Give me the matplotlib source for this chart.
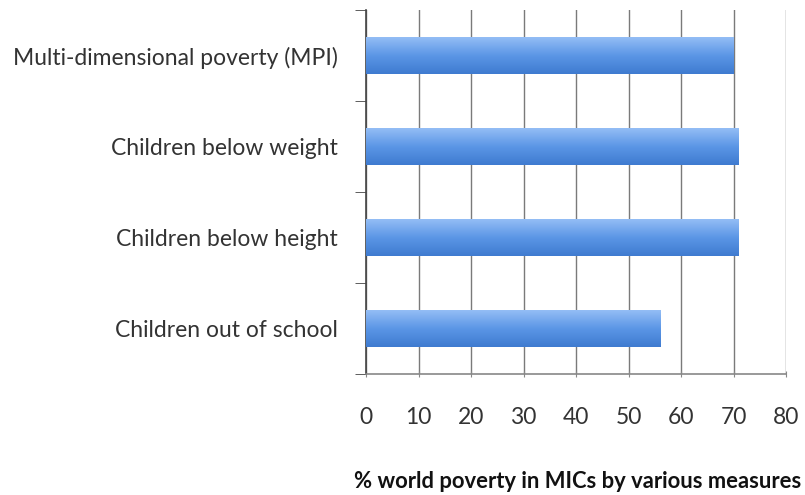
import matplotlib
matplotlib.use("Agg")
import matplotlib.pyplot as plt
import numpy as np
from matplotlib.colors import LinearSegmentedColormap

categories = ["Multi-dimensional poverty (MPI)", "Children below weight",
              "Children below height", "Children out of school"]
values = [70, 71, 71, 56]
xticks = [0, 10, 20, 30, 40, 50, 60, 70, 80]
xlabel = "% world poverty in MICs by various measures"

plt.rcParams['font.family'] = ['Lato', 'DejaVu Sans']

fig = plt.figure(figsize=(8.05, 4.95), dpi=100)
ax = fig.add_axes([366/805, 1-374/495, (786-366)/805, (374-10)/495])

ypos = np.arange(len(categories))[::-1]
bars = ax.barh(ypos, values, height=0.4, color="#5a93e0", zorder=3)

cmap = LinearSegmentedColormap.from_list("g", ["#3f7bd0", "#5b96e6", "#93bdf5"])
grad = np.linspace(0, 1, 64).reshape(-1, 1)
for p in bars:
    x0, y0 = p.get_x(), p.get_y()
    w, h = p.get_width(), p.get_height()
    im = ax.imshow(grad, cmap=cmap, aspect="auto", origin="lower",
                   extent=[x0, x0 + w, y0, y0 + h], zorder=4)
    im.set_clip_path(p)

ax.set_xlim(0, 80)
ax.set_ylim(-0.5, len(categories) - 0.5)
ax.set_xticks(xticks)
ax.set_xticklabels([str(t) for t in xticks], fontsize=16.5, color="#333333")
ax.xaxis.grid(True, color="#7a7a7a", linewidth=1.0, zorder=0)
ax.set_yticks(ypos)
ax.set_yticklabels(categories, fontsize=16.5, color="#333333")
ax.set_yticks(np.arange(-0.5, len(categories), 1.0), minor=True)
ax.tick_params(axis="y", which="major", length=0, pad=20)
ax.tick_params(axis="y", which="minor", length=8, color="#444444", direction="out")
ax.tick_params(axis="x", which="major", length=5, color="#888888", direction="inout", pad=21)

for s in ["top", "right"]:
    ax.spines[s].set_visible(False)
ax.spines["left"].set_color("#444444")
ax.spines["bottom"].set_color("#888888")
ax.spines["left"].set_linewidth(1.2)
ax.spines["bottom"].set_linewidth(1.2)
ax.set_axisbelow(True)

fig.text(801/805, 1-482/495, xlabel, ha="right", va="center", fontsize=15.8,
         fontweight="bold", color="#111111")

fig.savefig("out.png", dpi=100)
